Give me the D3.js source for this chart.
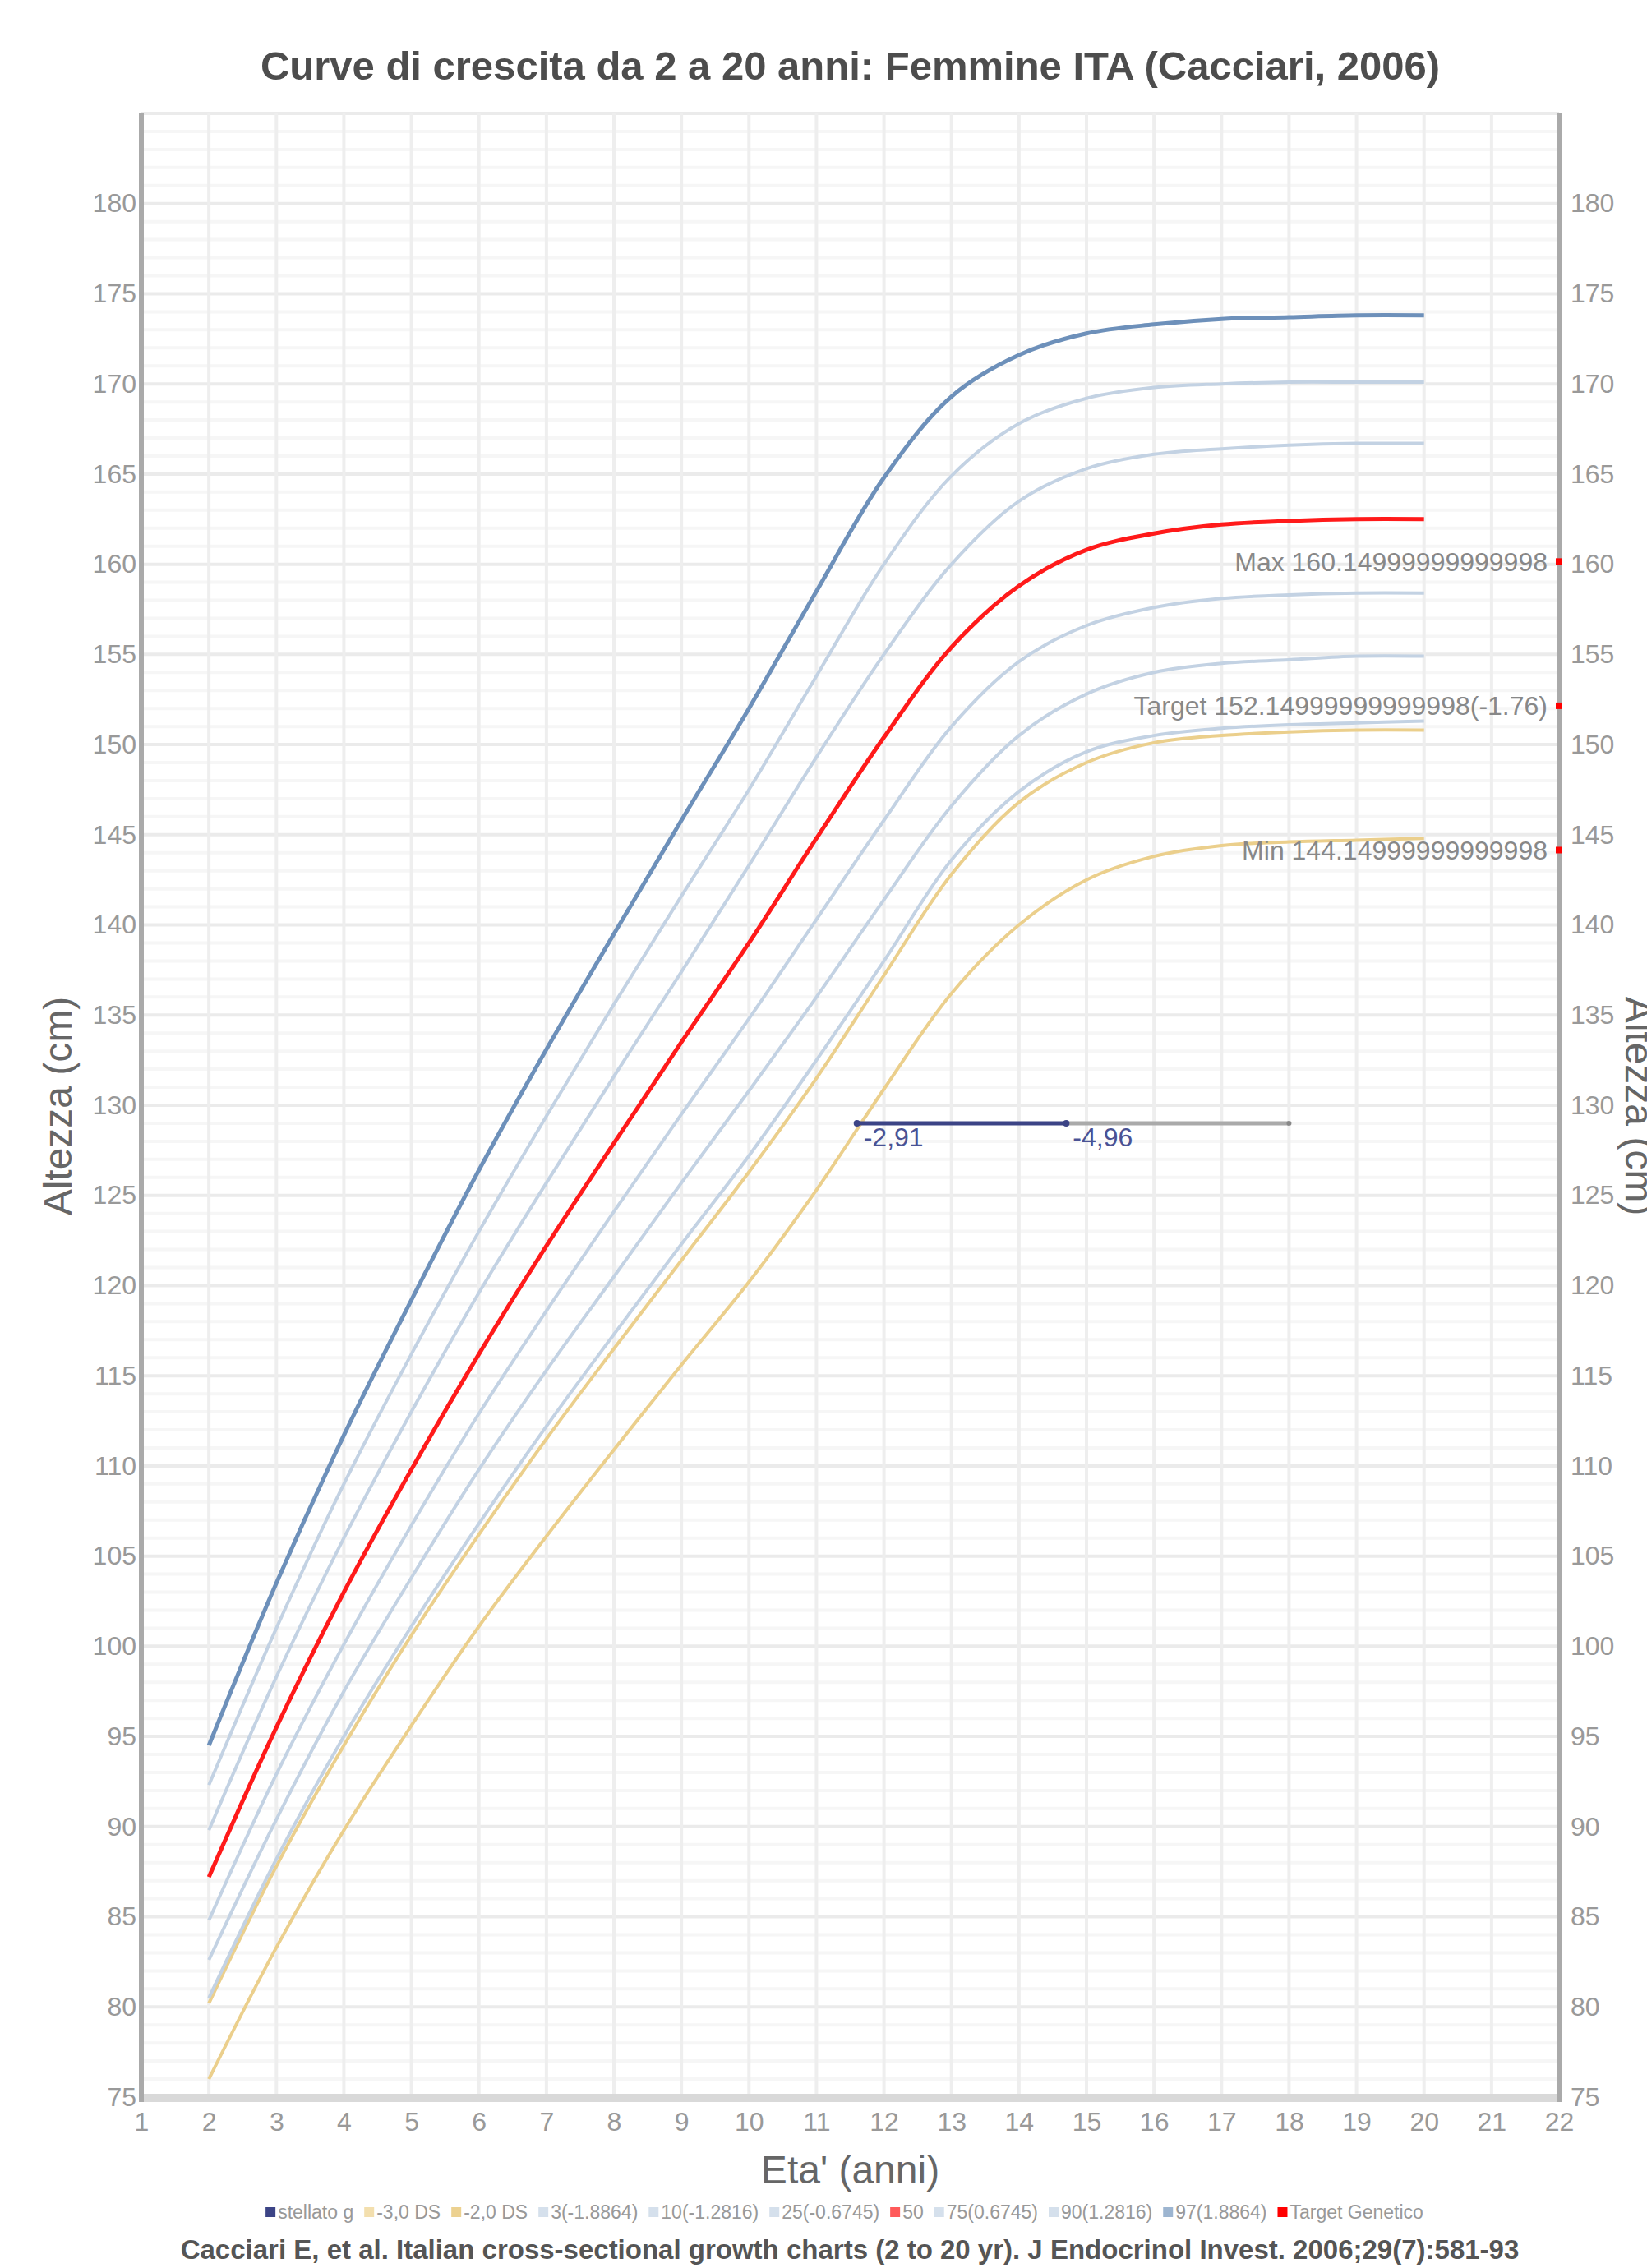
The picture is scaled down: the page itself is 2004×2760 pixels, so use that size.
<!DOCTYPE html>
<html>
<head>
<meta charset="utf-8">
<script src="https://cdnjs.cloudflare.com/ajax/libs/d3/7.8.5/d3.min.js"></script>
<style>
body { margin: 0; background: #fff; }
svg { font-family: 'Liberation Sans', Arial, sans-serif; }
</style>
</head>
<body>
<div id="chart"></div>
<script>
// reference curves, one value per year of age (2..20)
var ages = [2, 3, 4, 5, 6, 7, 8, 9, 10, 11, 12, 13, 14, 15, 16, 17, 18, 19, 20];
var ds3 = [76.0, 83.3, 89.8, 95.6, 101.1, 106.1, 110.9, 115.6, 120.2, 125.3, 130.9, 136.2, 140.0, 142.5, 143.8, 144.4, 144.6, 144.7, 144.8];
var ds2 = [80.2, 87.8, 94.5, 100.6, 106.2, 111.5, 116.5, 121.4, 126.3, 131.5, 137.2, 142.8, 146.8, 149.0, 150.1, 150.5, 150.7, 150.8, 150.8];
var p3 = [80.5, 88.2, 95.0, 101.1, 106.8, 112.2, 117.3, 122.3, 127.2, 132.5, 138.0, 143.6, 147.4, 149.6, 150.5, 150.9, 151.1, 151.2, 151.3];
var p10 = [82.6, 90.4, 97.5, 103.8, 109.8, 115.3, 120.5, 125.7, 130.8, 136.0, 141.4, 146.6, 150.5, 152.8, 154.0, 154.5, 154.7, 154.9, 154.9];
var p25 = [84.8, 92.9, 100.1, 106.7, 112.9, 118.6, 124.1, 129.5, 134.8, 140.3, 145.8, 151.0, 154.6, 156.6, 157.6, 158.1, 158.3, 158.4, 158.4];
var p50 = [87.2, 95.5, 103.0, 109.8, 116.2, 122.2, 127.9, 133.5, 139.0, 144.8, 150.4, 155.4, 158.8, 160.8, 161.7, 162.2, 162.4, 162.5, 162.5];
var p75 = [89.8, 98.3, 106.0, 113.0, 119.6, 125.7, 131.6, 137.4, 143.3, 149.3, 155.0, 160.0, 163.5, 165.3, 166.1, 166.4, 166.6, 166.7, 166.7];
var p90 = [92.3, 101.0, 109.0, 116.2, 123.0, 129.4, 135.6, 141.6, 147.5, 153.8, 160.0, 164.9, 167.8, 169.2, 169.8, 170.0, 170.1, 170.1, 170.1];
var p97 = [94.5, 103.5, 111.7, 119.2, 126.4, 133.1, 139.5, 145.8, 152.0, 158.5, 164.8, 169.3, 171.6, 172.8, 173.3, 173.6, 173.7, 173.8, 173.8];

// patient measurements
var patientAge = [11.6, 14.7];
var patientHeight = [129.0, 129.0];
var patientSds = ['-2,91', '-4,96'];
var projectionAge = [14.7, 18.0];
var projectionHeight = [129.0, 129.0];

// genetic target
var targetAge = 22;
var targetValues = [160.15, 152.15, 144.15];
var targetLabels = ['Max 160.14999999999998', 'Target 152.14999999999998(-1.76)', 'Min 144.14999999999998'];

var xTicks = d3.range(1, 23);
var yTicks = d3.range(75, 181, 5);

var legendNames = ['stellato g', '-3,0 DS', '-2,0 DS', '3(-1.8864)', '10(-1.2816)', '25(-0.6745)', '50', '75(0.6745)', '90(1.2816)', '97(1.8864)', 'Target Genetico'];
var legendColours = ['#3c4486', '#f3dfae', '#ecd190', '#d5e0ec', '#d5e0ec', '#d5e0ec', '#ff5a5a', '#d5e0ec', '#d5e0ec', '#9db5d0', '#ff0000'];

var width = 2004, height = 2760;
var plotLeft = 172, plotRight = 1897, plotTop = 138, plotBottom = 2552;

var svg = d3.select('#chart')
    .append('svg')
    .attr('width', width)
    .attr('height', height);

var x = d3.scaleLinear().domain([1, 22]).range([plotLeft, plotRight]);
var y = d3.scaleLinear().domain([75, 185]).range([plotBottom, plotTop]);

// grid
svg.append('g')
    .selectAll('line')
    .data(d3.range(75, 186, 1))
    .enter()
    .append('line')
    .attr('x1', plotLeft).attr('x2', plotRight)
    .attr('y1', function(d) { return y(d); })
    .attr('y2', function(d) { return y(d); })
    .attr('stroke', function(d) { return d % 5 === 0 ? '#ebebeb' : '#f6f6f6'; })
    .attr('stroke-width', 4);

svg.append('g')
    .selectAll('line')
    .data(xTicks)
    .enter()
    .append('line')
    .attr('x1', function(d) { return x(d); })
    .attr('x2', function(d) { return x(d); })
    .attr('y1', plotTop).attr('y2', plotBottom)
    .attr('stroke', '#eeeeee')
    .attr('stroke-width', 4);

// axes
function styleAxis(g) {
    g.select('.domain').remove();
    g.selectAll('.tick line').remove();
    g.selectAll('text')
        .attr('fill', '#999')
        .style('font-size', '32px')
        .style('font-family', "'Liberation Sans', Arial, sans-serif");
}

svg.append('g')
    .attr('transform', 'translate(' + (plotLeft - 4) + ',0)')
    .call(d3.axisLeft(y).tickValues(yTicks).tickSize(0).tickPadding(2))
    .call(styleAxis);

svg.append('g')
    .attr('transform', 'translate(' + (plotRight + 12) + ',0)')
    .call(d3.axisRight(y).tickValues(yTicks).tickSize(0).tickPadding(2))
    .call(styleAxis);

svg.append('g')
    .attr('transform', 'translate(0,' + (plotBottom + 18) + ')')
    .call(d3.axisBottom(x).tickValues(xTicks).tickSize(0).tickPadding(0))
    .call(styleAxis);

svg.append('rect')
    .attr('x', plotLeft).attr('y', plotBottom - 4)
    .attr('width', plotRight - plotLeft).attr('height', 10)
    .attr('fill', '#d9d9d9');

svg.append('line')
    .attr('x1', plotLeft).attr('x2', plotLeft)
    .attr('y1', plotTop).attr('y2', plotBottom + 6)
    .attr('stroke', '#aaaaaa').attr('stroke-width', 6);

svg.append('line')
    .attr('x1', plotRight).attr('x2', plotRight)
    .attr('y1', plotTop).attr('y2', plotBottom + 6)
    .attr('stroke', '#aaaaaa').attr('stroke-width', 6);

// curves
var line = d3.line()
    .x(function(d) { return x(d[0]); })
    .y(function(d) { return y(d[1]); })
    .curve(d3.curveCatmullRom.alpha(0.5));

var curves = [
    { values: ds3, colour: '#ebcf8c', w: 4 },
    { values: ds2, colour: '#ebcf8c', w: 4 },
    { values: p3, colour: '#c3d2e3', w: 4 },
    { values: p10, colour: '#c3d2e3', w: 4 },
    { values: p25, colour: '#c3d2e3', w: 4 },
    { values: p75, colour: '#c3d2e3', w: 4 },
    { values: p90, colour: '#c3d2e3', w: 4 },
    { values: p97, colour: '#6d90ba', w: 5 },
    { values: p50, colour: '#ff1a1a', w: 5 }
];

svg.append('g')
    .selectAll('path')
    .data(curves)
    .enter()
    .append('path')
    .attr('d', function(c) {
        return line(ages.map(function(a, i) { return [a, c.values[i]]; }));
    })
    .attr('fill', 'none')
    .attr('stroke', function(c) { return c.colour; })
    .attr('stroke-width', function(c) { return c.w; })
    .attr('stroke-linejoin', 'round');

// patient
var straight = d3.line()
    .x(function(d) { return x(d[0]); })
    .y(function(d) { return y(d[1]); });

svg.append('path')
    .attr('d', straight(projectionAge.map(function(a, i) { return [a, projectionHeight[i]]; })))
    .attr('fill', 'none')
    .attr('stroke', '#aaaaaa')
    .attr('stroke-width', 5);

svg.append('circle')
    .attr('cx', x(projectionAge[1])).attr('cy', y(projectionHeight[1]))
    .attr('r', 3).attr('fill', '#888');

var patientPoints = patientAge.map(function(a, i) { return [a, patientHeight[i]]; });

svg.append('path')
    .attr('d', straight(patientPoints))
    .attr('fill', 'none')
    .attr('stroke', '#3c4486')
    .attr('stroke-width', 5);

svg.append('g')
    .selectAll('circle')
    .data(patientPoints)
    .enter()
    .append('circle')
    .attr('cx', function(d) { return x(d[0]); })
    .attr('cy', function(d) { return y(d[1]); })
    .attr('r', 4)
    .attr('fill', '#3c4486');

svg.append('g')
    .selectAll('text')
    .data(patientPoints)
    .enter()
    .append('text')
    .attr('x', function(d) { return x(d[0]) + 8; })
    .attr('y', function(d) { return y(d[1]) + 28; })
    .attr('fill', '#4a5294')
    .style('font-size', '32px')
    .text(function(d, i) { return patientSds[i]; });

// genetic target markers
var targets = svg.append('g')
    .selectAll('g')
    .data(targetValues)
    .enter()
    .append('g');

targets.append('rect')
    .attr('x', x(targetAge) - 4)
    .attr('y', function(d) { return y(d) - 4; })
    .attr('width', 8).attr('height', 8)
    .attr('fill', '#ff0000');

targets.append('text')
    .attr('x', x(targetAge) - 14)
    .attr('y', function(d) { return y(d); })
    .attr('dy', '0.35em')
    .attr('text-anchor', 'end')
    .attr('fill', '#888')
    .style('font-size', '32px')
    .text(function(d, i) { return targetLabels[i]; });

// titles
svg.append('text')
    .attr('x', (plotLeft + plotRight) / 2)
    .attr('y', 97)
    .attr('text-anchor', 'middle')
    .attr('fill', '#4d4d4d')
    .style('font-size', '49px')
    .style('font-weight', 'bold')
    .text('Curve di crescita da 2 a 20 anni: Femmine ITA (Cacciari, 2006)');

svg.append('text')
    .attr('transform', 'translate(87,1346) rotate(-90)')
    .attr('text-anchor', 'middle')
    .attr('fill', '#666')
    .style('font-size', '48px')
    .text('Altezza (cm)');

// right title sits against the page edge, as in the original
svg.append('text')
    .attr('transform', 'translate(1978,1346) rotate(90)')
    .attr('text-anchor', 'middle')
    .attr('fill', '#666')
    .style('font-size', '48px')
    .text('Altezza (cm)');

svg.append('text')
    .attr('x', (plotLeft + plotRight) / 2)
    .attr('y', 2657)
    .attr('text-anchor', 'middle')
    .attr('fill', '#666')
    .style('font-size', '48px')
    .text("Eta' (anni)");

// legend
var legend = svg.append('g');
var cursor = 0;
legendNames.forEach(function(name, i) {
    var item = legend.append('g').attr('transform', 'translate(' + cursor + ',0)');
    item.append('rect')
        .attr('x', 0).attr('y', -14)
        .attr('width', 12).attr('height', 12)
        .attr('fill', legendColours[i]);
    var t = item.append('text')
        .attr('x', 15)
        .attr('y', 0)
        .attr('fill', '#999')
        .style('font-size', '23px')
        .text(name);
    cursor += 15 + t.node().getComputedTextLength() + 13;
});
legend.attr('transform', 'translate(' + (1034 - cursor / 2) + ',2700)');

svg.append('text')
    .attr('x', 1034)
    .attr('y', 2749)
    .attr('text-anchor', 'middle')
    .attr('fill', '#555')
    .style('font-size', '33px')
    .style('font-weight', 'bold')
    .text('Cacciari E, et al. Italian cross-sectional growth charts (2 to 20 yr). J Endocrinol Invest. 2006;29(7):581-93');
</script>
</body>
</html>
